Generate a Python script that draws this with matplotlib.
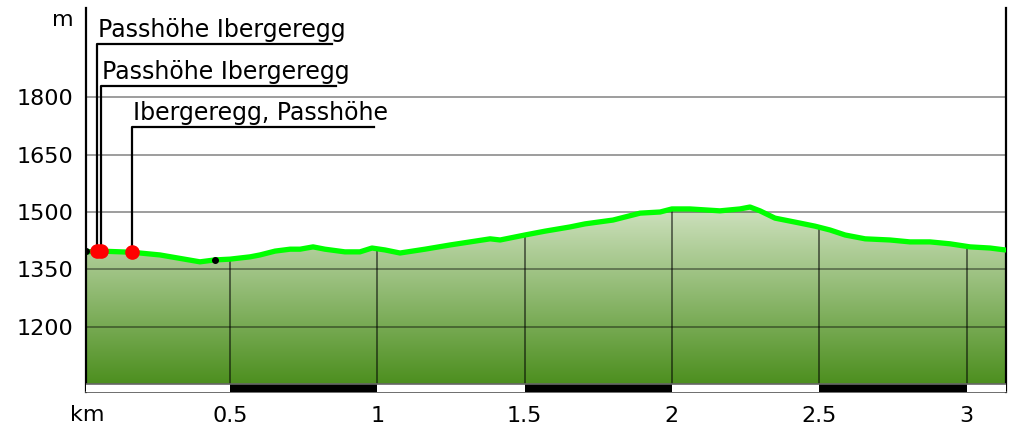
import numpy as np
import matplotlib
matplotlib.use("Agg")
import matplotlib.pyplot as plt
from matplotlib.patches import Polygon

# elevation profile (km, m)
km = [0.011, 0.059, 0.167, 0.262, 0.398, 0.449, 0.500, 0.568, 0.602, 0.653,
      0.704, 0.738, 0.782, 0.822, 0.890, 0.941, 0.982, 1.026, 1.077, 1.162,
      1.247, 1.332, 1.383, 1.417, 1.501, 1.569, 1.654, 1.705, 1.800, 1.892,
      1.960, 2.000, 2.061, 2.163, 2.231, 2.265, 2.299, 2.350, 2.435, 2.486,
      2.537, 2.588, 2.656, 2.740, 2.808, 2.876, 2.944, 3.012, 3.080, 3.131]
elev = [1396, 1398, 1395, 1388, 1370, 1375, 1377, 1383, 1388, 1398,
        1403, 1403, 1409, 1403, 1396, 1396, 1406, 1401, 1393, 1403,
        1414, 1424, 1430, 1427, 1440, 1450, 1461, 1469, 1479, 1497,
        1500, 1508, 1508, 1503, 1508, 1513, 1503, 1484, 1471, 1463,
        1453, 1440, 1430, 1427, 1422, 1422, 1417, 1409, 1406, 1401]

# waypoints
wp_names = ["Passhöhe Ibergeregg", "Passhöhe Ibergeregg", "Ibergeregg, Passhöhe"]
wp_km = [0.049, 0.063, 0.168]
wp_elev = [1398, 1398, 1396]
wp_label_elev = [1938, 1829, 1722]
wp_label_end = [0.847, 0.860, 0.989]

# small black markers on the track
mk_km = [0.011, 0.449]
mk_elev = [1398, 1376]

yticks = [1200, 1350, 1500, 1650, 1800]
xticks = [0.5, 1, 1.5, 2, 2.5, 3]
xticklabels = ["0.5", "1", "1.5", "2", "2.5", "3"]

xmin, xmax = 0.0112, 3.134
ymin, ymax = 1030.4, 2032.2
bar_top = 1051

fig = plt.figure(figsize=(10.12, 4.30), dpi=100)
ax = fig.add_axes([86 / 1012, 38 / 430, 920 / 1012, 384 / 430])
ax.set_xlim(xmin, xmax)
ax.set_ylim(ymin, ymax)

# gradient fill under the profile
verts = [(km[0], bar_top)] + list(zip(km, elev)) + [(km[-1], bar_top)]
poly = Polygon(verts, closed=True, facecolor="none", edgecolor="none")
ax.add_patch(poly)
grad = np.linspace(0, 1, 256).reshape(-1, 1)
top_c = np.array([0.82, 0.89, 0.76])
bot_c = np.array([0.30, 0.56, 0.12])
img = top_c * (1 - grad[..., None]) + bot_c * grad[..., None]
im = ax.imshow(img, extent=(xmin, xmax, bar_top, max(elev) + 5), aspect="auto",
               origin="upper", zorder=1)
im.set_clip_path(poly)

# horizontal grid
for yt in yticks:
    ax.axhline(yt, color="black", alpha=0.45, lw=1.2, zorder=2)

# vertical lines at km ticks, up to the profile
for xt in xticks:
    ax.plot([xt, xt], [ymin, np.interp(xt, km, elev)], color="black",
            alpha=0.6, lw=1.2, zorder=2)

# distance scale bar
edges = [xmin] + xticks + [xmax]
for i in range(len(edges) - 1):
    ax.bar(edges[i], bar_top - ymin, width=edges[i + 1] - edges[i], bottom=ymin,
           align="edge", color="black" if i % 2 else "white", lw=0, zorder=3)
ax.axhline(bar_top, color="#666666", lw=1.2, zorder=3)

# profile line
ax.plot(km, elev, color="#00ff00", lw=3.8, solid_capstyle="round", zorder=4)

# markers
ax.plot(mk_km, mk_elev, "o", color="black", ms=4, zorder=5)

# waypoints with leader lines
for name, x, y, ly, lx in zip(wp_names, wp_km, wp_elev, wp_label_elev, wp_label_end):
    ax.plot([x, x, lx], [y, ly, ly], color="black", lw=1.6, zorder=5)
    ax.text(x + 0.004, ly + 6, name, fontsize=17, ha="left", va="bottom", zorder=6)
ax.plot(wp_km, wp_elev, "o", color="#ff0000", ms=9.5, zorder=6)

# axes styling
ax.spines["top"].set_visible(False)
ax.spines["bottom"].set_color("#555555")
ax.spines["bottom"].set_linewidth(1.2)
ax.spines["left"].set_linewidth(1.6)
ax.spines["right"].set_linewidth(1.6)
ax.set_yticks(yticks)
ax.set_yticklabels([str(v) for v in yticks], fontsize=16)
ax.set_xticks(xticks)
ax.set_xticklabels(xticklabels, fontsize=16)
ax.tick_params(axis="y", length=0, pad=9)
ax.tick_params(axis="x", length=0, pad=10)

fig.text(74 / 1012, 1 - 20 / 430, "m", fontsize=16, ha="right", va="center")
fig.text(87 / 1012, 1 - 415 / 430, "km", fontsize=16, ha="center", va="center")

fig.savefig("out.png", dpi=100)
